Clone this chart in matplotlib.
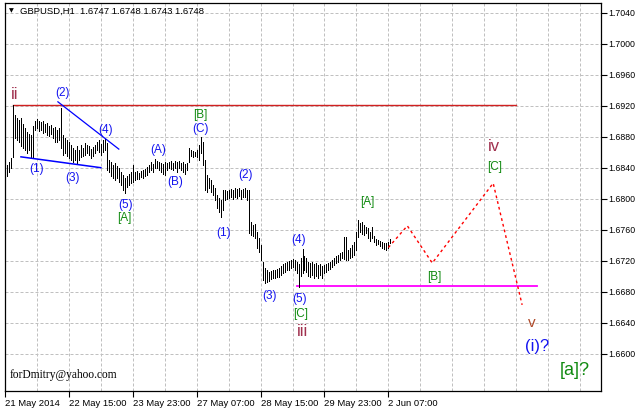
import numpy as np
import matplotlib
matplotlib.use("Agg")
import matplotlib.pyplot as plt

# ---------------- data (hourly bars, GBPUSD H1) ----------------
highs = [1.6844, 1.6847, 1.6853, 1.6921, 1.6908, 1.6904, 1.6902, 1.6904, 1.6896, 1.6891,
         1.6886, 1.6884, 1.6882, 1.6894, 1.6900, 1.6903, 1.6900, 1.6899, 1.6900, 1.6896,
         1.6898, 1.6894, 1.6895, 1.6891, 1.6893, 1.6889, 1.6891, 1.6917, 1.6882, 1.6878,
         1.6876, 1.6873, 1.6869, 1.6865, 1.6863, 1.6868, 1.6863, 1.6869, 1.6865, 1.6872,
         1.6869, 1.6868, 1.6864, 1.6867, 1.6869, 1.6873, 1.6876, 1.6871, 1.6876, 1.6877,
         1.6872, 1.6850, 1.6847, 1.6844, 1.6846, 1.6842, 1.6840, 1.6834, 1.6831, 1.6827,
         1.6829, 1.6832, 1.6834, 1.6844, 1.6834, 1.6836, 1.6833, 1.6836, 1.6837, 1.6838,
         1.6841, 1.6844, 1.6847, 1.6845, 1.6851, 1.6849, 1.6847, 1.6846, 1.6845, 1.6847,
         1.6846, 1.6847, 1.6849, 1.6846, 1.6849, 1.6847, 1.6849, 1.6846, 1.6847, 1.6845,
         1.6846, 1.6865, 1.6863, 1.6862, 1.6860, 1.6863, 1.6869, 1.6880, 1.6873, 1.6850,
         1.6831, 1.6827, 1.6824, 1.6818, 1.6814, 1.6805, 1.6801, 1.6798, 1.6811, 1.6811,
         1.6810, 1.6811, 1.6813, 1.6811, 1.6814, 1.6813, 1.6814, 1.6811, 1.6813, 1.6814,
         1.6811, 1.6811, 1.6770, 1.6766, 1.6767, 1.6757, 1.6749, 1.6740, 1.6718, 1.6711,
         1.6708, 1.6706, 1.6707, 1.6708, 1.6708, 1.6709, 1.6711, 1.6713, 1.6716, 1.6717,
         1.6718, 1.6720, 1.6721, 1.6722, 1.6721, 1.6718, 1.6716, 1.6724, 1.6735, 1.6726,
         1.6724, 1.6718, 1.6717, 1.6718, 1.6716, 1.6717, 1.6715, 1.6716, 1.6713, 1.6715,
         1.6716, 1.6717, 1.6718, 1.6721, 1.6724, 1.6726, 1.6727, 1.6730, 1.6731, 1.6751,
         1.6751, 1.6734, 1.6737, 1.6740, 1.6744, 1.6757, 1.6773, 1.6769, 1.6770, 1.6766,
         1.6764, 1.6762, 1.6757, 1.6764, 1.6752, 1.6748, 1.6747, 1.6746, 1.6744, 1.6743,
         1.6743, 1.6744, 1.6748]
lows = [1.6829, 1.6834, 1.6840, 1.6854, 1.6878, 1.6876, 1.6873, 1.6868, 1.6865, 1.6863,
        1.6859, 1.6863, 1.6854, 1.6853, 1.6889, 1.6891, 1.6887, 1.6889, 1.6885, 1.6886,
        1.6882, 1.6881, 1.6884, 1.6878, 1.6873, 1.6873, 1.6876, 1.6865, 1.6856, 1.6859,
        1.6855, 1.6853, 1.6850, 1.6847, 1.6850, 1.6846, 1.6850, 1.6854, 1.6855, 1.6856,
        1.6859, 1.6856, 1.6853, 1.6855, 1.6859, 1.6863, 1.6860, 1.6856, 1.6860, 1.6863,
        1.6837, 1.6834, 1.6829, 1.6827, 1.6824, 1.6827, 1.6822, 1.6818, 1.6811, 1.6807,
        1.6815, 1.6818, 1.6820, 1.6822, 1.6824, 1.6826, 1.6826, 1.6828, 1.6827, 1.6829,
        1.6831, 1.6834, 1.6837, 1.6834, 1.6840, 1.6840, 1.6837, 1.6834, 1.6832, 1.6831,
        1.6837, 1.6840, 1.6838, 1.6837, 1.6840, 1.6834, 1.6840, 1.6837, 1.6834, 1.6832,
        1.6837, 1.6847, 1.6855, 1.6854, 1.6855, 1.6854, 1.6850, 1.6859, 1.6844, 1.6811,
        1.6809, 1.6814, 1.6809, 1.6805, 1.6798, 1.6788, 1.6783, 1.6777, 1.6786, 1.6798,
        1.6800, 1.6801, 1.6802, 1.6800, 1.6802, 1.6801, 1.6804, 1.6800, 1.6802, 1.6802,
        1.6798, 1.6756, 1.6753, 1.6752, 1.6749, 1.6737, 1.6731, 1.6721, 1.6695, 1.6691,
        1.6693, 1.6694, 1.6697, 1.6698, 1.6698, 1.6699, 1.6699, 1.6702, 1.6704, 1.6706,
        1.6708, 1.6708, 1.6711, 1.6712, 1.6708, 1.6704, 1.6686, 1.6700, 1.6704, 1.6708,
        1.6706, 1.6700, 1.6699, 1.6702, 1.6698, 1.6700, 1.6698, 1.6702, 1.6698, 1.6704,
        1.6706, 1.6708, 1.6709, 1.6712, 1.6715, 1.6717, 1.6718, 1.6721, 1.6724, 1.6722,
        1.6721, 1.6721, 1.6724, 1.6725, 1.6727, 1.6734, 1.6751, 1.6757, 1.6755, 1.6753,
        1.6756, 1.6749, 1.6746, 1.6749, 1.6744, 1.6740, 1.6742, 1.6739, 1.6737, 1.6735,
        1.6734, 1.6737, 1.6743]

# time axis labels (bar index -> label)
xtick_pos = [-1, 31, 63, 95, 127, 159, 191]
xtick_labels = ["21 May 2014", "22 May 15:00", "23 May 23:00", "27 May 07:00",
                "28 May 15:00", "29 May 23:00", "2 Jun 07:00"]
ytick_vals = [1.6600, 1.6640, 1.6680, 1.6720, 1.6760, 1.6800, 1.6840,
              1.6880, 1.6920, 1.6960, 1.7000, 1.7040]

# drawn objects
resistance_level = 1.6921
resistance_span = [3, 255]
support_level = 1.6687
support_span = [145, 265.5]
upper_trend_x = [25.5, 56]
upper_trend_y = [1.6925, 1.6864]
lower_trend_x = [7, 47]
lower_trend_y = [1.6854, 1.6840]
proj_x = [191, 200.5, 213, 243.5, 258]
proj_y = [1.6737, 1.6765, 1.6717, 1.6820, 1.6663]

# wave labels: text, bar index, price, kind
waves = [
    ("ii", 4, 1.6935, "roman"),
    ("(2)", 28, 1.6936, "minor"),
    ("(4)", 49.5, 1.6889, "minor"),
    ("(1)", 15, 1.6838, "minor"),
    ("(3)", 33, 1.6827, "minor"),
    ("(5)", 59.5, 1.6792, "minor"),
    ("[A]", 58.7, 1.6775, "inter"),
    ("(A)", 75.5, 1.6863, "minor"),
    ("(B)", 84.3, 1.6822, "minor"),
    ("[B]", 97, 1.6908, "inter"),
    ("(C)", 97, 1.6890, "minor"),
    ("(2)", 119.5, 1.6831, "minor"),
    ("(1)", 108.7, 1.6756, "minor"),
    ("(3)", 131.5, 1.6675, "minor"),
    ("(4)", 146, 1.6747, "minor"),
    ("(5)", 146.5, 1.6671, "minor"),
    ("[C]", 147, 1.6651, "inter"),
    ("iii", 147.8, 1.6628, "roman"),
    ("[A]", 180.3, 1.6796, "inter"),
    ("[B]", 214, 1.6699, "inter"),
    ("iv", 244, 1.6867, "roman"),
    ("[C]", 244, 1.6841, "inter"),
    ("v", 263, 1.6639, "roman_v"),
    ("(i)?", 265.3, 1.6609, "big_blue"),
    ("[a]?", 284.5, 1.6578, "big_green"),
]

# ---------------- figure ----------------
W, H = 636, 408
fig = plt.figure(figsize=(W / 100, H / 100), dpi=100)
fig.patch.set_facecolor("white")
L, R, T, B = 5, 601, 3, 391
ax = fig.add_axes([L / W, (H - B) / H, (R - L) / W, (B - T) / H])

ppx = 0.004 / 31.0
ax.set_ylim(1.7040 - (B - 12.7) * ppx, 1.7040 + (12.7 - T) * ppx)
ax.set_xlim(-0.5, 297.5)

tfont = "Liberation Sans"

# grid
for v in ytick_vals:
    ax.axhline(v, color="#c0c0c0", lw=0.72, ls=(0, (3, 2)), zorder=0)
for gx in np.arange(15, 298, 16):
    ax.axvline(gx, color="#c0c0c0", lw=0.72, ls=(0, (3, 2)), zorder=0)

# bars
x = np.arange(len(highs))
ax.vlines(x, lows, highs, color="black", lw=0.72, antialiased=False, zorder=3)

# lines
ax.plot(resistance_span, [resistance_level] * 2, color="#d02020", lw=1.0, zorder=2)
ax.plot(support_span, [support_level] * 2, color="#ff00ff", lw=1.3, zorder=2)
ax.plot(upper_trend_x, upper_trend_y, color="#0000ff", lw=0.9, zorder=4)
ax.plot(lower_trend_x, lower_trend_y, color="#0000ff", lw=1.1, zorder=4)
ax.plot(proj_x, proj_y, color="#ff0000", lw=1.0, ls=(0, (2, 2.2)), zorder=4)

styles = {
    "roman": dict(color="#a0304e", size=12),
    "roman_v": dict(color="#b04a2a", size=11),
    "minor": dict(color="#1414f0", size=8.5),
    "inter": dict(color="#108a10", size=8.5),
    "big_blue": dict(color="#1414f0", size=12),
    "big_green": dict(color="#108a10", size=13),
}
for txt, xi, yv, kind in waves:
    st = styles[kind]
    ax.text(xi, yv, txt, ha="center", va="center", family=tfont,
            color=st["color"], fontsize=st["size"], zorder=5)

# axes styling
for s in ax.spines.values():
    s.set_color("black")
    s.set_linewidth(0.9)
ax.yaxis.tick_right()
ax.set_yticks(ytick_vals)
ax.set_yticklabels([f"{v:.4f}" for v in ytick_vals], family=tfont, fontsize=6.3)
ax.tick_params(axis="y", which="major", length=4, width=0.8, pad=1.0, direction="out")
ax.set_xticks(xtick_pos)
ax.set_xticklabels(xtick_labels, family=tfont, fontsize=6.8, ha="left")
ax.tick_params(axis="x", which="major", length=4, width=0.8, pad=1.5, direction="out")
for lab in ax.get_xticklabels():
    lab.set_horizontalalignment("left")

# header and signature
fig.text(11 / W, 1 - 10.5 / H, "\u25bc", fontsize=4.5, ha="center", va="center",
         family="DejaVu Sans", color="black")
fig.text(20 / W, 1 - 11 / H, "GBPUSD,H1  1.6747 1.6748 1.6743 1.6748", fontsize=6.8,
         ha="left", va="center", family=tfont, color="black")
fig.text(10 / W, 1 - 375 / H, "forDmitry@yahoo.com", fontsize=8.3, ha="left",
         va="center", family="Liberation Serif", color="black")

fig.savefig("out.png", dpi=100, facecolor="white")
